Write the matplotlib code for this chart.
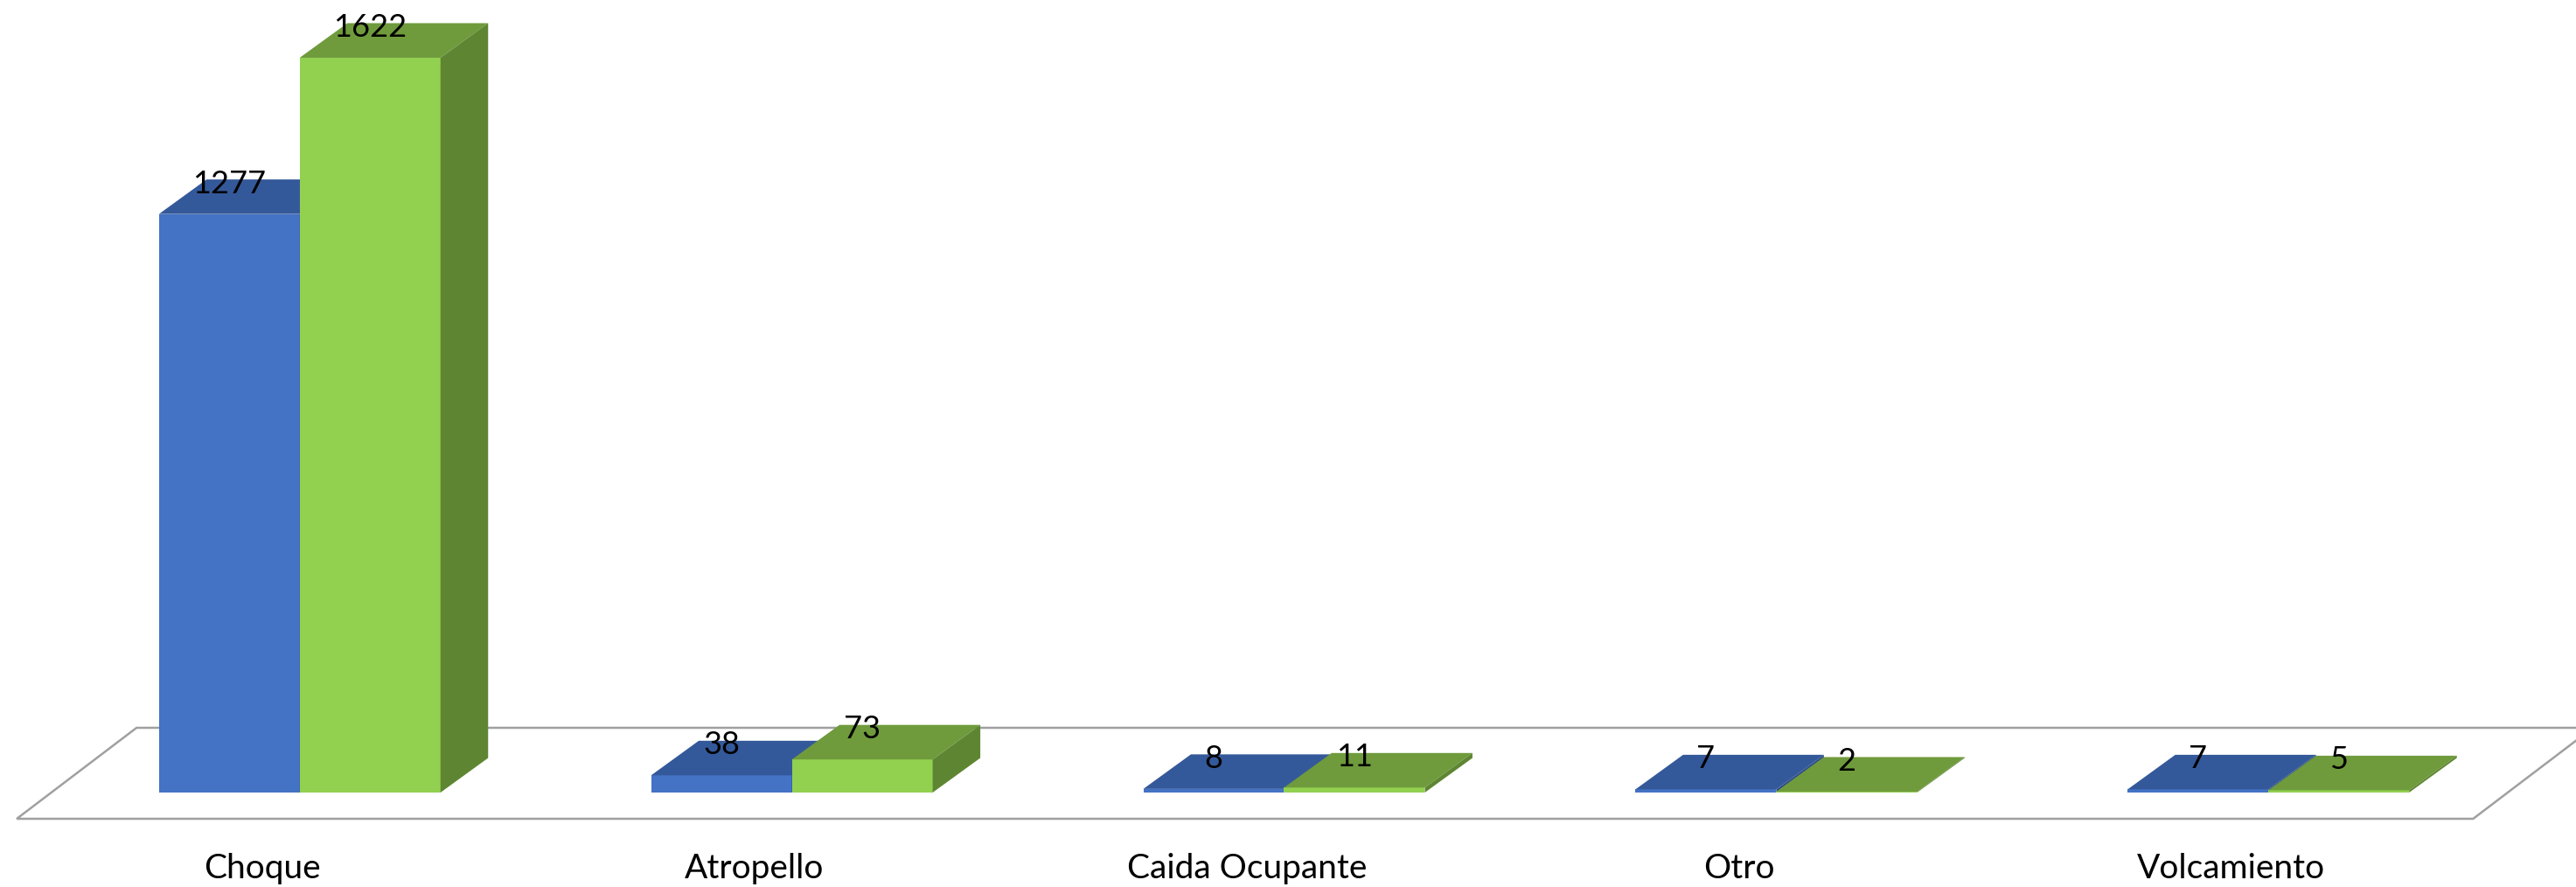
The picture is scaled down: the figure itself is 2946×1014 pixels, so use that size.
import matplotlib.pyplot as plt
from matplotlib.patches import Polygon

categories = ['Choque', 'Atropello', 'Caida Ocupante', 'Otro', 'Volcamiento']
serie_azul = [1277, 38, 8, 7, 7]
serie_verde = [1622, 73, 11, 2, 5]

plt.rcParams['font.family'] = ['Lato', 'DejaVu Sans']

fig = plt.figure(figsize=(29.46, 10.14), dpi=100)
ax = fig.add_axes([0, 0, 1, 1])
ax.set_xlim(-0.609, 4.625)
ax.set_ylim(-208.5, 1749.4)
ax.axis('off')

w = 0.286          # ancho de cada barra (unidades de categoria)
ddx = 0.0968       # profundidad en x
ddy = 76.3         # profundidad en y (unidades de valor)

# piso
floor_front = -57.9
floor_back = 142.9
fx0, fx1 = -0.575, 4.416
fdx = 0.2434
ax.add_patch(Polygon([(fx0, floor_front), (fx1, floor_front),
                      (fx1 + fdx, floor_back), (fx0 + fdx, floor_back)],
                     closed=True, facecolor='white', edgecolor='#A0A0A0',
                     linewidth=1.8, zorder=1))

colores = [('#4472C4', '#34599A', '#2E4F8A'), ('#92D050', '#6F9B3C', '#5E8632')]


def barra3d(x0, v, cols, z):
    front, top, side = cols
    ax.bar(x0, v, width=w, align='edge', color=front, linewidth=0, zorder=z)
    ax.add_patch(Polygon([(x0, v), (x0 + w, v), (x0 + w + ddx, v + ddy), (x0 + ddx, v + ddy)],
                         closed=True, facecolor=top, edgecolor='none', zorder=z))
    ax.add_patch(Polygon([(x0 + w, 0), (x0 + w, v), (x0 + w + ddx, v + ddy), (x0 + w + ddx, ddy)],
                         closed=True, facecolor=side, edgecolor='none', zorder=z))


for i, cat in enumerate(categories):
    for j, serie in enumerate([serie_azul, serie_verde]):
        x0 = i - w + j * w
        v = serie[i]
        barra3d(x0, v, colores[j], 2 + i * 2 + j * 0.5)
        ax.text(x0 + w / 2, v + ddy - 9.7, str(v), ha='center', va='center',
                fontsize=26, color='black', zorder=20)
    ax.text(i - 0.076, -167, cat, ha='center', va='center', fontsize=28, color='black')

fig.savefig('out.png', dpi=100)
plt.close(fig)
